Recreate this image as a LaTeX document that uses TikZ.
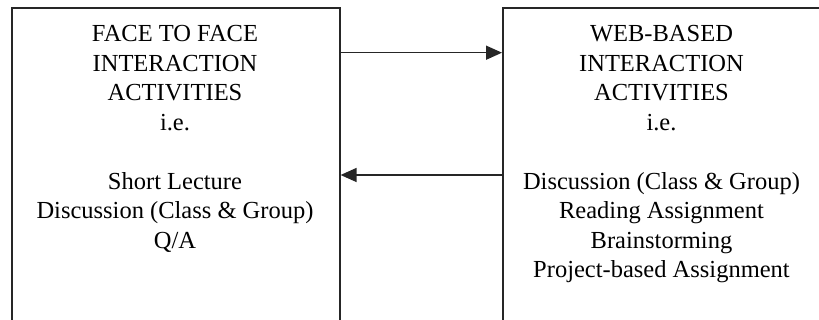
\documentclass[tikz,border=0pt]{standalone}
\usepackage{fontspec}
\setmainfont{Liberation Serif}
\usetikzlibrary{arrows.meta}
\begin{document}
\begin{tikzpicture}[x=1pt,y=-1pt,
  boxstyle/.style={draw=black!85, line width=1.6pt, inner sep=0pt, anchor=north west},
  txt/.style={align=center, inner sep=0pt, anchor=north, font=\fontsize{24.5}{29.5}\selectfont},
  arr/.style={draw=black!85, line width=1.5pt, -{Triangle[length=16pt,width=14pt]}}]
\useasboundingbox (0,0) rectangle (819,320);
\clip (0,0) rectangle (819,320);
\node[boxstyle, minimum width=328pt, minimum height=340pt] (lbox) at (11,7) {};
\node[boxstyle, minimum width=320pt, minimum height=340pt] (rbox) at (502,7) {};
\node[txt] (ltext) at (175,25.5) {FACE TO FACE\\INTERACTION\\ACTIVITIES\\i.e.\\[29.5pt]Short Lecture\\Discussion (Class \& Group)\\Q/A};
\node[txt] (rtext) at (661.5,25.5) {WEB-BASED\\INTERACTION\\ACTIVITIES\\i.e.\\[29.5pt]Discussion (Class \& Group)\\Reading Assignment\\Brainstorming\\Project-based Assignment};
\path (lbox.north east) ++(0,45.7) coordinate (a1);
\path (rbox.north west) ++(0,168) coordinate (b1);
\draw[arr] (a1) -- (a1 -| rbox.west);
\draw[arr] (b1) -- (b1 -| lbox.east);
\end{tikzpicture}
\end{document}
